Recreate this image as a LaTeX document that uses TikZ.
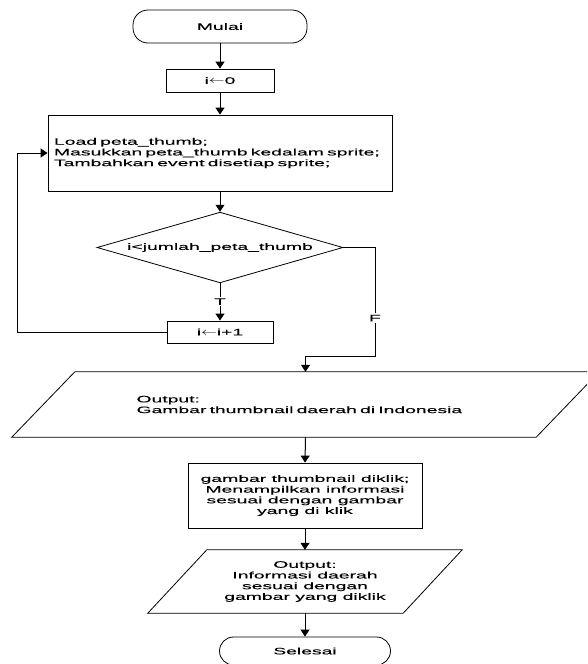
\documentclass[tikz,border=0pt]{standalone}
\usepackage{fontspec}
\usepackage{graphicx}
\setmainfont{Liberation Sans}[FakeStretch=2.06, FakeBold=0.12]
\usetikzlibrary{shapes.geometric,arrows.meta}

% assignment arrow used in the loop counter boxes
\newcommand{\assignarrow}{\scalebox{1.7}[1.15]{$\leftarrow$}}

\tikzset{
  every node/.style={font=\fontsize{9.4}{10.7}\selectfont},
  shapeline/.style={draw=black, line width=0.8pt},
  terminal/.style={shapeline, rectangle, rounded corners=15pt, inner sep=0pt},
  procbox/.style={shapeline, rectangle, inner sep=0pt},
  decision/.style={shapeline, diamond, aspect=3, inner sep=0pt},
  iobox/.style={rectangle, inner sep=0pt},
  conn/.style={draw=black, line width=1pt, -{Triangle[width=9pt,length=7pt]}},
  lbl/.style={fill=white, inner sep=1.5pt}
}

\begin{document}
\begin{tikzpicture}[x=1pt, y=-1pt]
  \useasboundingbox (0,0) rectangle (587,664);
  \clip (0,0) rectangle (587,664);

  % shapes of the flowchart
  \node[terminal, minimum width=174pt, minimum height=33pt] (start) at (220,26.5) {Mulai};
  \node[procbox, minimum width=108pt, minimum height=23pt] (init) at (220,80.5) {i\assignarrow0};
  \node[procbox, minimum width=344pt, minimum height=76pt, text width=332pt,
        align=left, inner xsep=6pt] (body) at (220,153)
        {Load peta\_thumb;\\Masukkan peta\_thumb kedalam sprite;\\Tambahkan event disetiap sprite;};
  \node[decision, minimum width=246pt, minimum height=65pt] (cond) at (220,247.5) {i<jumlah\_peta\_thumb};
  \node[procbox, minimum width=106pt, minimum height=22pt] (inc) at (220,332) {i\assignarrow i+1};
  \node[iobox, minimum width=587pt, minimum height=65pt, text width=338pt, align=left]
        (out1) at (305.5,404.5) {Output:\\Gambar thumbnail daerah di Indonesia};
  \node[procbox, minimum width=234pt, minimum height=65pt, align=center] (click) at (305,495.5)
        {gambar thumbnail diklik;\\Menampilkan informasi\\sesuai dengan gambar\\yang di klik};
  \node[iobox, minimum width=314pt, minimum height=63pt, align=center] (out2) at (305,581.5)
        {Output:\\Informasi daerah\\sesuai dengan\\gambar yang diklik};
  \node[terminal, minimum width=171pt, minimum height=28pt, rounded corners=14pt] (stop) at (305,651) {Selesai};

  % parallelogram outlines of the two output nodes
  \draw[shapeline] (out1.south west) -- ([xshift=-63pt]out1.south east)
    -- (out1.north east) -- ([xshift=63pt]out1.north west) -- cycle;
  \draw[shapeline] (out2.south west) -- ([xshift=-59pt]out2.south east)
    -- (out2.north east) -- ([xshift=59pt]out2.north west) -- cycle;

  % helper points for the loop and the exit branch
  \coordinate (loopcorner) at (17,332);
  \coordinate (exitcorner) at (375,356);

  % connectors
  \draw[conn] (start) -- (init);
  \draw[conn] (init) -- (body);
  \draw[conn] (body) -- (cond);
  \draw[conn] (cond.south) -- node[lbl, pos=0.49] {T} (inc.north);
  \draw[conn] (inc.west) -- (loopcorner) |- (body.west);
  \draw[conn] (cond.east) -| node[lbl, pos=0.825] {F} (exitcorner) -| (out1.north);
  \draw[conn] (out1.south) -- (click.north);
  \draw[conn] (click.south) -- (out2.north);
  \draw[conn] (out2.south) -- (stop.north);
\end{tikzpicture}
\end{document}
